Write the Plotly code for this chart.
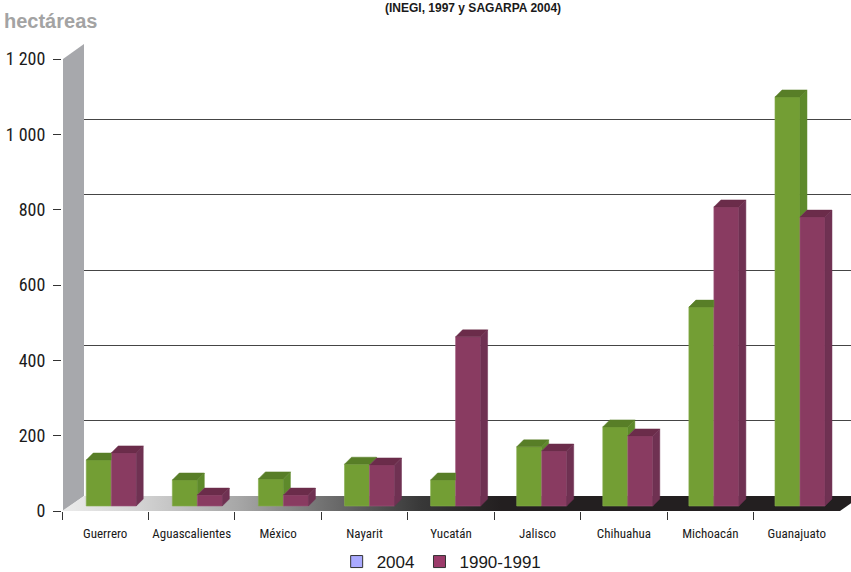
import plotly.graph_objects as go

# ---------------- data ----------------
categories = ["Guerrero", "Aguascalientes", "México", "Nayarit", "Yucatán",
              "Jalisco", "Chihuahua", "Michoacán", "Guanajuato"]
v2004 = [122, 69, 72, 111, 69, 157, 210, 528, 1086]
v1990 = [141, 29, 29, 109, 449, 146, 186, 794, 767]
y_tickvals = [0, 200, 400, 600, 800, 1000, 1200]
y_ticktext = ["0", "200", "400", "600", "800", "1 000", "1 200"]
series_names = ["2004", "1990-1991"]

# ---------------- layout geometry (pixels) ----------------
W, H = 851, 572
NARROW = "Roboto Condensed, Arial Narrow, Liberation Sans Narrow, Liberation Sans, sans-serif"
WIDE = "Liberation Sans, Arial, sans-serif"
X_LEFT, X_RIGHT = 62, 840          # front axis span
CW = (X_RIGHT - X_LEFT) / len(categories)
K = 452 / 1200                      # px per unit
PY0 = 506                           # bar baseline
Y2MIN, Y2MAX = -40, 1240


def fx(px):
    return px / W


def fy(py):
    return 1 - py / H


def pu(px):  # pixel x -> bar-subplot x units
    return -0.5 + (px - X_LEFT) / CW


def pv(py):  # pixel y -> bar-subplot y units
    return (PY0 - py) / K


DX = 7 / CW
DY = 7 / K
BW = 25 / CW

GREEN = dict(front="#739e34", top="#587e27", side="#5e8a2b", edge="#86ad4e")
MAG = dict(front="#893b61", top="#6b2c4a", side="#6f3152", edge="#9c5578")

fig = go.Figure()

# subplot 1 (x, y): back-wall gridlines
fig.add_trace(go.Scatter(x=[0.5], y=[None], xaxis="x", yaxis="y",
                         showlegend=False, hoverinfo="skip"))

# subplot 2 (x2, y2): side wall + floor (same scale as bars, drawn beneath them)
wall_px = [(63, 511), (63, 59), (84, 44), (84, 496)]
fig.add_trace(go.Scatter(
    x=[pu(p[0]) for p in wall_px] + [pu(wall_px[0][0])],
    y=[pv(p[1]) for p in wall_px] + [pv(wall_px[0][1])],
    xaxis="x2", yaxis="y2", mode="lines", fill="toself",
    fillcolor="#a7a8ac", line=dict(width=0), showlegend=False, hoverinfo="skip"))

floor_px = [(62, 511), (840, 511), (861, 496), (84, 496)]
fig.add_trace(go.Scatter(
    x=[pu(p[0]) for p in floor_px] + [pu(floor_px[0][0])],
    y=[pv(p[1]) for p in floor_px] + [pv(floor_px[0][1])],
    xaxis="x2", yaxis="y2", mode="lines", fill="toself",
    fillgradient=dict(type="horizontal",
                      colorscale=[[0, "#ececec"], [0.1, "#d2d2d2"], [0.22, "#a7a7a7"],
                                  [0.33, "#707070"], [0.45, "#383838"], [0.55, "#231f20"],
                                  [1, "#231f20"]]),
    line=dict(width=0), showlegend=False, hoverinfo="skip"))

# subplot 3 (x3, y3): bars
offs = [(6.0 - 0.35 * i) / CW for i in range(len(categories))]
xg = [i + offs[i] - BW / 2 for i in range(len(categories))]
xm = [i + offs[i] + BW / 2 for i in range(len(categories))]

fig.add_trace(go.Bar(x=xg, y=v2004, width=BW, xaxis="x3", yaxis="y3",
                     marker=dict(color=GREEN["front"], line=dict(color=GREEN["edge"], width=0.6)),
                     showlegend=False, name=series_names[0]))
fig.add_trace(go.Bar(x=xm, y=v1990, width=BW, xaxis="x3", yaxis="y3",
                     marker=dict(color=MAG["front"], line=dict(color=MAG["edge"], width=0.6)),
                     showlegend=False, name=series_names[1]))


def poly(xs, ys, color):
    fig.add_trace(go.Scatter(x=xs + [xs[0]], y=ys + [ys[0]], xaxis="x3", yaxis="y3",
                             mode="lines", fill="toself", fillcolor=color,
                             line=dict(width=0.5, color=color), showlegend=False,
                             hoverinfo="skip"))


for i in range(len(categories)):
    g, m = v2004[i], v1990[i]
    gl, gr = xg[i] - BW / 2, xg[i] + BW / 2
    ml, mr = xm[i] - BW / 2, xm[i] + BW / 2
    if g > m:
        poly([gr, gr, gr + DX, gr + DX], [m, g, g + DY, m + DY], GREEN["side"])
        poly([gl, gr, gr + DX, gl + DX], [g, g, g + DY, g + DY], GREEN["top"])
    else:
        poly([gl, gr, gr, gl + DX], [g, g, g + DY, g + DY], GREEN["top"])
    poly([mr, mr, mr + DX, mr + DX], [0, m, m + DY, DY], MAG["side"])
    poly([ml, mr, mr + DX, ml + DX], [m, m, m + DY, m + DY], MAG["top"])

# subplot 4 (x4, y4): front axes with ticks and labels
fig.add_trace(go.Scatter(x=categories, y=[None] * len(categories), xaxis="x4", yaxis="y4",
                         showlegend=False, hoverinfo="skip"))

# legend entries
fig.add_trace(go.Bar(x=[None], y=[None], name=series_names[0], xaxis="x4", yaxis="y4",
                     marker=dict(color="#aaaaff", line=dict(color="#333333", width=1))))
fig.add_trace(go.Bar(x=[None], y=[None], name=series_names[1], xaxis="x4", yaxis="y4",
                     marker=dict(color="#9b3b6a", line=dict(color="#333333", width=1))))

hidden = dict(visible=False, automargin=False, fixedrange=True)
bar_x = dict(domain=[fx(X_LEFT), 1], range=[-0.5, pu(W)])
bar_y = dict(domain=[fy(PY0 - Y2MIN * K), fy(PY0 - Y2MAX * K)], range=[Y2MIN, Y2MAX])

fig.update_layout(
    template="none",
    width=W, height=H,
    margin=dict(l=0, r=0, t=0, b=0, autoexpand=False),
    paper_bgcolor="white", plot_bgcolor="rgba(0,0,0,0)",
    barmode="overlay",
    font=dict(family=NARROW, color="#1a1a1a"),
    xaxis=dict(domain=[fx(84), 1], range=[0, 1], **hidden),
    yaxis=dict(domain=[fy(496), fy(44)], range=[0, 1200.5], anchor="x", automargin=False,
               showgrid=True, gridcolor="#454545", gridwidth=1, dtick=200,
               showticklabels=False, ticks="", zeroline=False, showline=False),
    xaxis2=dict(anchor="y2", **bar_x, **hidden),
    yaxis2=dict(anchor="x2", **bar_y, **hidden),
    xaxis3=dict(anchor="y3", **bar_x, **hidden),
    yaxis3=dict(anchor="x3", **bar_y, **hidden),
    xaxis4=dict(domain=[fx(X_LEFT), fx(X_RIGHT)], type="category", categoryarray=categories,
                range=[-0.5, 8.5], anchor="y4", tickson="boundaries", ticks="outside",
                ticklen=8, tickcolor="#333333", tickwidth=1, showgrid=False, showline=False,
                zeroline=False, ticklabelstandoff=13, tickangle=0, automargin=False,
                tickfont=dict(size=13, color="#1a1a1a", family=NARROW)),
    yaxis4=dict(domain=[fy(511), fy(59)], range=[0, 1200], anchor="x4", automargin=False,
                tickvals=y_tickvals, ticktext=y_ticktext, ticks="outside", ticklen=8,
                tickcolor="#333333", showgrid=False, showline=False, zeroline=False,
                ticklabelstandoff=4, tickfont=dict(size=18, color="#1a1a1a", family=NARROW)),
    legend=dict(orientation="h", x=0.519, xanchor="center", y=-0.014, yanchor="bottom",
                font=dict(size=17, color="#1a1a1a", family=WIDE), bgcolor="rgba(0,0,0,0)",
                itemwidth=30, tracegroupgap=0),
    annotations=[
        dict(text="<b>(INEGI, 1997 y SAGARPA 2004)</b>", x=fx(473), y=fy(8),
             xref="paper", yref="paper", showarrow=False, xanchor="center", yanchor="middle",
             font=dict(size=12, color="#1a1a1a", family=WIDE)),
        dict(text="<b>hectáreas</b>", x=fx(2), y=fy(21), xref="paper", yref="paper",
             showarrow=False, xanchor="left", yanchor="middle",
             font=dict(size=20, color="#a3a3a3", family=WIDE)),
    ],
)

fig.write_html("out.html")
